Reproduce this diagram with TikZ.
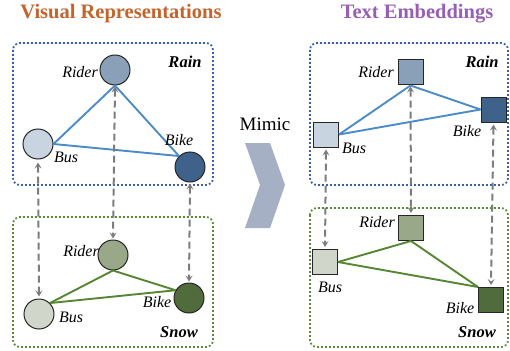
\documentclass[tikz,border=0pt]{standalone}
\usepackage{fontspec}
\setmainfont{Liberation Serif}
\usetikzlibrary{arrows.meta,calc}
\definecolor{titleorange}{RGB}{196,100,44}
\definecolor{titlepurple}{RGB}{150,95,180}
\definecolor{rainbox}{RGB}{55,95,170}
\definecolor{snowbox}{RGB}{90,140,55}
\definecolor{rainedge}{RGB}{75,140,200}
\definecolor{snowedge}{RGB}{85,135,50}
\definecolor{rainA}{RGB}{200,212,224}
\definecolor{rainB}{RGB}{138,160,184}
\definecolor{rainC}{RGB}{62,98,138}
\definecolor{snowA}{RGB}{208,214,202}
\definecolor{snowB}{RGB}{152,168,136}
\definecolor{snowC}{RGB}{80,108,60}
\definecolor{chev}{RGB}{166,176,196}
\definecolor{dashgray}{RGB}{125,125,125}
\tikzset{
  circ/.style={circle, draw=black!85, line width=1pt, minimum size=30pt, inner sep=0pt},
  sq/.style={rectangle, draw=black!85, line width=1pt, minimum size=25pt, inner sep=0pt},
  lbl/.style={font=\fontsize{16}{16}\selectfont\itshape, inner sep=0pt},
  cond/.style={font=\fontsize{16.5}{16.5}\selectfont\bfseries\itshape, inner sep=0pt},
  ttl/.style={font=\fontsize{20.5}{21}\selectfont\bfseries, inner sep=0pt},
  rainframe/.style={draw=rainbox, line width=1.8pt, dash pattern=on 1.8pt off 2.2pt, rounded corners=7pt},
  snowframe/.style={draw=snowbox, line width=1.8pt, dash pattern=on 1.8pt off 2.2pt, rounded corners=7pt},
  redge/.style={draw=rainedge, line width=1.9pt},
  sedge/.style={draw=snowedge, line width=1.9pt},
  corr/.style={draw=dashgray, line width=2pt, dash pattern=on 7pt off 4pt,
    {Stealth[length=6pt,width=7pt,inset=2.5pt]}-{Stealth[length=6pt,width=7pt,inset=2.5pt]}}
}
\begin{document}
\begin{tikzpicture}[x=1pt,y=-1pt]
\useasboundingbox (0,0) rectangle (510,350);
% titles
\node[ttl, text=titleorange] (t1) at (121,14) {Visual Representations};
\node[ttl, text=titlepurple] (t2) at (417,14) {Text Embeddings};
% frames
\draw[rainframe] (13,43) rectangle (213,185);
\draw[snowframe] (13,217) rectangle (213,347);
\draw[rainframe] (310,43) rectangle (508,185);
\draw[snowframe] (310,208) rectangle (508,347);
% left rain
\node[circ, fill=rainB] (lrR) at (115,70) {};
\node[circ, fill=rainA] (lrB) at (38,144) {};
\node[circ, fill=rainC] (lrK) at (190,167) {};
\draw[redge] (lrR.south) -- (lrB.east);
\draw[redge] (lrR.south) -- (lrK.north west);
\draw[redge] (lrB.east) -- (lrK.north west);
\node[lbl, anchor=east] (llrR) at (98,72) {Rider};
\node[lbl] (llrB) at (66,157) {Bus};
\node[lbl] (llrK) at (179,140) {Bike};
\node[cond] (lrT) at (185,62) {Rain};
% left snow
\node[circ, fill=snowB] (lsR) at (113,255) {};
\node[circ, fill=snowA] (lsB) at (39,314) {};
\node[circ, fill=snowC] (lsK) at (189,298) {};
\draw[sedge] (lsR.south) -- (lsB.north east);
\draw[sedge] (lsR.south) -- (lsK.150);
\draw[sedge] (lsB.north east) -- (lsK.150);
\node[lbl, anchor=east] (llsR) at (99,251) {Rider};
\node[lbl] (llsB) at (71,317) {Bus};
\node[lbl] (llsK) at (157,302) {Bike};
\node[cond] (lsT) at (179,332) {Snow};
% left correspondences
\draw[corr] ($(lrB.south)+(0,3)$) -- ($(lsB.north)+(0,-2)$);
\draw[corr] ($(lrR.south)+(0,1)$) -- ($(lsR.north)+(0,-1)$);
\draw[corr] ($(lrK.south)+(0,1)$) -- ($(lsK.north)+(0,-1)$);
% mimic
\node[font=\fontsize{19}{19}\selectfont, inner sep=0pt] (mim) at (265,124) {Mimic};
\fill[chev] (245,143) -- (270,143) -- (285,185) -- (270,228) -- (245,228) -- (260,185) -- cycle;
% right rain
\node[sq, fill=rainB] (rrR) at (410.5,72.5) {};
\node[sq, fill=rainA] (rrB) at (326,134.5) {};
\node[sq, fill=rainC] (rrK) at (493.5,109.5) {};
\draw[redge] (rrR.south) -- (rrB.east);
\draw[redge] (rrR.south) -- (rrK.west);
\draw[redge] (rrB.east) -- (rrK.west);
\node[lbl, anchor=east] (lrrR) at (394,72) {Rider};
\node[lbl] (lrrB) at (354,148) {Bus};
\node[lbl] (lrrK) at (467,131) {Bike};
\node[cond] (rrT) at (482,62) {Rain};
% right snow
\node[sq, fill=snowB] (rsR) at (411,228) {};
\node[sq, fill=snowA] (rsB) at (325,262) {};
\node[sq, fill=snowC] (rsK) at (491,300) {};
\draw[sedge] (rsR.south) -- (rsB.east);
\draw[sedge] (rsR.south) -- (rsK.north west);
\draw[sedge] (rsB.east) -- (rsK.north west);
\node[lbl, anchor=east] (lrsR) at (395,222) {Rider};
\node[lbl] (lrsB) at (330,287) {Bus};
\node[lbl] (lrsK) at (460,308) {Bike};
\node[cond] (rsT) at (477,332) {Snow};
% right correspondences
\draw[corr] ($(rrB.south)+(0,2)$) -- ($(rsB.north)+(0,-2)$);
\draw[corr] ($(rrR.south)+(0,1)$) -- ($(rsR.north)+(0,-2)$);
\draw[corr] ($(rrK.south)+(0,2)$) -- ($(rsK.north)+(0,-2)$);
\end{tikzpicture}
\end{document}
